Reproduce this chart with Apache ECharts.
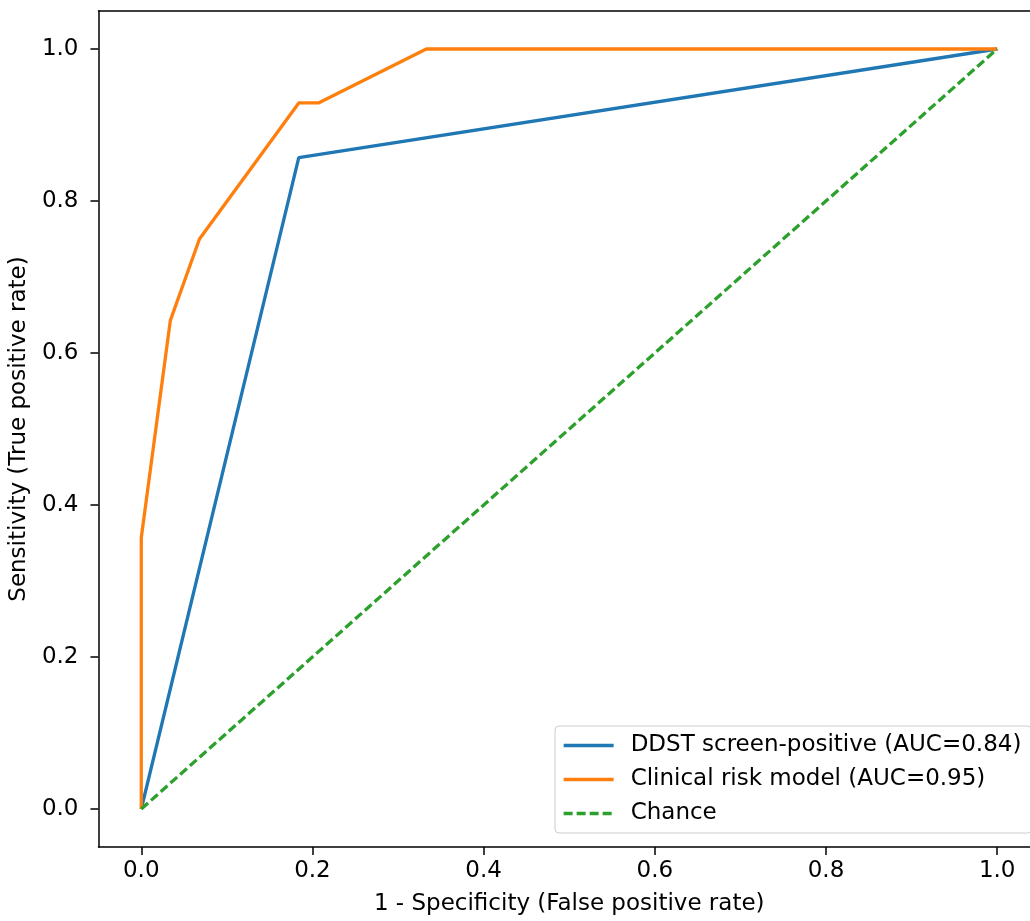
<!DOCTYPE html>
<html>
<head>
<meta charset="utf-8">
<script src="https://cdn.jsdelivr.net/npm/echarts@6/dist/echarts.min.js"></script>
<style>
	html, body { margin: 0; padding: 0; background: #fff; overflow: hidden; }
	/* wider than the window: right spine falls outside, like the reference */
	#rocChart { width: 1046px; height: 921px; }
</style>
</head>
<body>
<div id="rocChart"></div>
<script>
'use strict';
// ROC curve points
var ddstFpr = [0, 0.184, 1];
var ddstTpr = [0, 0.857, 1];
var clinFpr = [0, 0, 0.034, 0.068, 0.184, 0.207, 0.333, 1];
var clinTpr = [0, 0.357, 0.643, 0.75, 0.929, 0.929, 1, 1];
var chanceFpr = [0, 1];
var chanceTpr = [0, 1];
var tickVals = [0, 0.2, 0.4, 0.6, 0.8, 1.0];
var seriesNames = ['DDST screen-positive (AUC=0.84)', 'Clinical risk model (AUC=0.95)', 'Chance'];

function pairs(xs, ys) {
	var out = [];
	for (var i = 0; i < xs.length; i++) {
		out.push([xs[i], ys[i]]);
	}
	return out;
}

var font = 'DejaVu Sans';
var rocChart = echarts.init(document.getElementById('rocChart'));

var axisLineStyle = { color: '#000', width: 1.5 };

var rocOption = {
	animation: false,
	textStyle: { fontFamily: font },
	grid: { left: 96, top: 11, width: 944, height: 837 },
	legend: {
		orient: 'vertical',
		left: 555,
		top: 726,
		padding: [8, 10, 8, 7],
		itemGap: 11,
		itemWidth: 50,
		itemHeight: 14,
		borderColor: '#cccccc',
		borderWidth: 1,
		borderRadius: 4,
		backgroundColor: 'rgba(255,255,255,0.8)',
		itemStyle: { opacity: 0 }, // line only, no dot
		lineStyle: { width: 3.3 },
		textStyle: { fontSize: 23, color: '#000', fontFamily: font, padding: [0, 0, 0, 12] },
		data: seriesNames
	},
	xAxis: [
		{
			type: 'value',
			min: -0.05,
			max: 1.05,
			name: '1 - Specificity (False positive rate)',
			nameLocation: 'middle',
			nameGap: 46,
			nameTextStyle: { fontSize: 23, color: '#000', fontFamily: font },
			axisLine: { show: true, onZero: false, lineStyle: axisLineStyle },
			axisTick: { show: true, inside: false, length: 8, customValues: tickVals, lineStyle: axisLineStyle },
			axisLabel: {
				customValues: tickVals,
				fontSize: 23,
				color: '#000',
				margin: 13,
				formatter: function (v) { return v.toFixed(1); }
			},
			splitLine: { show: false }
		},
		{
			// top spine
			type: 'value',
			position: 'top',
			min: -0.05,
			max: 1.05,
			axisLine: { show: true, onZero: false, lineStyle: axisLineStyle },
			axisTick: { show: false },
			axisLabel: { show: false },
			splitLine: { show: false }
		}
	],
	yAxis: [
		{
			type: 'value',
			min: -0.05,
			max: 1.05,
			name: 'Sensitivity (True positive rate)',
			nameLocation: 'middle',
			nameGap: 66,
			nameTextStyle: { fontSize: 23, color: '#000', fontFamily: font },
			axisLine: { show: true, onZero: false, lineStyle: axisLineStyle },
			axisTick: { show: true, inside: false, length: 8, customValues: tickVals, lineStyle: axisLineStyle },
			axisLabel: {
				customValues: tickVals,
				fontSize: 23,
				color: '#000',
				margin: 20,
				formatter: function (v) { return v.toFixed(1); }
			},
			splitLine: { show: false }
		}
	],
	series: [
		{
			name: seriesNames[0],
			type: 'line',
			symbol: 'none',
			lineStyle: { color: '#1f77b4', width: 3.3 },
			itemStyle: { color: '#1f77b4' },
			data: pairs(ddstFpr, ddstTpr),
			z: 3
		},
		{
			name: seriesNames[1],
			type: 'line',
			symbol: 'none',
			lineStyle: { color: '#ff7f0e', width: 3.3 },
			itemStyle: { color: '#ff7f0e' },
			data: pairs(clinFpr, clinTpr),
			z: 4
		},
		{
			name: seriesNames[2],
			type: 'line',
			symbol: 'none',
			lineStyle: { color: '#2ca02c', width: 3.3, type: [9, 4] },
			itemStyle: { color: '#2ca02c' },
			data: pairs(chanceFpr, chanceTpr),
			z: 5
		}
	]
};

rocChart.setOption(rocOption);
</script>
</body>
</html>
